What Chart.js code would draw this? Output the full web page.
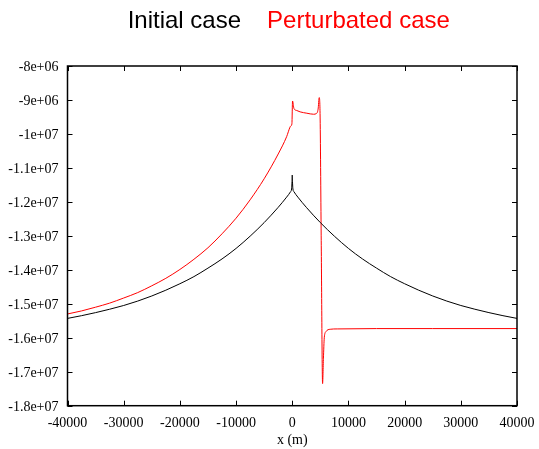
<!DOCTYPE html>
<html>
<head>
<meta charset="utf-8">
<script src="https://cdn.jsdelivr.net/npm/chart.js@4.4.1/dist/chart.umd.min.js"></script>
<style>
  html, body { margin: 0; padding: 0; background: #fff; }
  canvas { display: block; }
</style>
</head>
<body>
<canvas id="chart" width="539" height="449"></canvas>
<script>
// valeurs (x en m)
const initialX = [-40000, -37500, -35000, -32500, -30000, -27500, -25000, -22500, -20000, -17500,
  -15000, -12500, -10000, -7500, -5000, -2500, -1000, -300, -120, -40, 0, 40, 120, 300, 1000,
  2500, 5000, 7500, 10000, 12500, 15000, 17500, 20000, 22500, 25000, 27500, 30000, 32500, 35000,
  37500, 40000];
const initialY = [-15.43e6, -15.35e6, -15.26e6, -15.16e6, -15.05e6, -14.92e6, -14.77e6, -14.60e6,
  -14.41e6, -14.20e6, -13.95e6, -13.68e6, -13.37e6, -13.01e6, -12.61e6, -12.16e6, -11.86e6,
  -11.70e6, -11.62e6, -11.40e6, -11.21e6, -11.40e6, -11.62e6, -11.70e6, -11.86e6, -12.16e6,
  -12.61e6, -13.01e6, -13.37e6, -13.68e6, -13.95e6, -14.20e6, -14.41e6, -14.60e6, -14.77e6,
  -14.92e6, -15.05e6, -15.16e6, -15.26e6, -15.35e6, -15.43e6];

const perturbX = [-40000, -37500, -35000, -32500, -30000, -27500, -25000, -22500, -20000, -17500,
  -15000, -12500, -10000, -7500, -5000, -2500, -1000, -400, -230, -60, 50, 300, 800, 1400, 2600,
  3800, 4300, 4600, 4800, 4950, 5150, 5400, 5550, 5700, 6000, 6750, 8000, 15000, 25000, 40000];
const perturbY = [-15.30e6, -15.21e6, -15.10e6, -14.98e6, -14.83e6, -14.67e6, -14.47e6, -14.25e6,
  -13.99e6, -13.69e6, -13.35e6, -12.94e6, -12.48e6, -11.94e6, -11.32e6, -10.59e6, -10.08e6,
  -9.80e6, -9.76e6, -9.70e6, -9.03e6, -9.25e6, -9.31e6, -9.35e6, -9.39e6, -9.42e6, -9.40e6,
  -9.27e6, -8.93e6, -9.40e6, -13.0e6, -17.35e6, -16.6e6, -16.0e6, -15.82e6, -15.75e6, -15.74e6,
  -15.73e6, -15.73e6, -15.73e6];

const xTicks = [-40000, -30000, -20000, -10000, 0, 10000, 20000, 30000, 40000];
const xTickLabels = ['-40000', '-30000', '-20000', '-10000', '0', '10000', '20000', '30000', '40000'];
const yTicks = [-18e6, -17e6, -16e6, -15e6, -14e6, -13e6, -12e6, -11e6, -10e6, -9e6, -8e6];
const yTickLabels = ['-1.8e+07', '-1.7e+07', '-1.6e+07', '-1.5e+07', '-1.4e+07', '-1.3e+07',
  '-1.2e+07', '-1.1e+07', '-1e+07', '-9e+06', '-8e+06'];

const seriesNames = ['Initial case', 'Perturbated case'];
const seriesColors = ['#000000', '#ff0000'];

const serif = "'Liberation Serif', 'Times New Roman', serif";

// titre en deux couleurs au-dessus du cadre
const headerPlugin = {
  id: 'header',
  afterDraw(chart) {
    const { ctx, chartArea } = chart;
    ctx.save();
    ctx.font = "24px 'Liberation Sans', Arial, sans-serif";
    ctx.textBaseline = 'alphabetic';
    ctx.textAlign = 'left';
    const gap = 26;
    const w0 = ctx.measureText(seriesNames[0]).width;
    const w1 = ctx.measureText(seriesNames[1]).width;
    const cx = (chartArea.left + chartArea.right) / 2 - 3.5;
    let x = cx - (w0 + gap + w1) / 2;
    ctx.fillStyle = seriesColors[0];
    ctx.fillText(seriesNames[0], x, 28);
    ctx.fillStyle = seriesColors[1];
    ctx.fillText(seriesNames[1], x + w0 + gap, 28);
    ctx.restore();
  }
};

// cadre et graduations vers l'interieur sur les 4 cotes
const framePlugin = {
  id: 'frame',
  afterDatasetsDraw(chart) {
    const { ctx, chartArea: a, scales } = chart;
    const len = 5;
    ctx.save();
    ctx.strokeStyle = '#000';
    ctx.lineWidth = 1;
    ctx.beginPath();
    xTicks.forEach(v => {
      const px = Math.round(scales.x.getPixelForValue(v)) + 0.5;
      ctx.moveTo(px, a.bottom); ctx.lineTo(px, a.bottom - len);
      ctx.moveTo(px, a.top); ctx.lineTo(px, a.top + len);
    });
    yTicks.forEach(v => {
      const py = Math.round(scales.y.getPixelForValue(v)) + 0.5;
      ctx.moveTo(a.left, py); ctx.lineTo(a.left + len, py);
      ctx.moveTo(a.right, py); ctx.lineTo(a.right - len, py);
    });
    ctx.stroke();
    ctx.lineWidth = 1.5;
    ctx.strokeRect(a.left, a.top, a.right - a.left, a.bottom - a.top);
    ctx.restore();
  }
};

const toPoints = (xs, ys) => xs.map((x, i) => ({ x: x, y: ys[i] }));

new Chart(document.getElementById('chart'), {
  type: 'line',
  data: {
    datasets: [{
      label: seriesNames[0],
      data: toPoints(initialX, initialY),
      borderColor: seriesColors[0],
      borderWidth: 1,
      pointRadius: 0,
      cubicInterpolationMode: 'monotone',
      fill: false
    }, {
      label: seriesNames[1],
      data: toPoints(perturbX, perturbY),
      borderColor: seriesColors[1],
      borderWidth: 1,
      pointRadius: 0,
      cubicInterpolationMode: 'monotone',
      fill: false
    }]
  },
  options: {
    responsive: false,
    animation: false,
    devicePixelRatio: 1,
    layout: { padding: { left: 0, right: 22, top: 66, bottom: 0 } },
    plugins: {
      legend: { display: false },
      title: { display: false },
      tooltip: { enabled: false }
    },
    scales: {
      x: {
        type: 'linear',
        min: -40000,
        max: 40000,
        afterBuildTicks: s => { s.ticks = xTicks.map(v => ({ value: v })); },
        afterFit: s => { s.height = 43.3; s.paddingLeft = 0; s.paddingRight = 0; },
        grid: { display: false, drawTicks: false },
        border: { display: false },
        ticks: {
          padding: 9,
          color: '#000',
          font: { family: serif, size: 14 },
          maxRotation: 0,
          callback: v => xTickLabels[xTicks.indexOf(v)]
        },
        title: {
          display: true,
          text: 'x (m)',
          color: '#000',
          font: { family: serif, size: 14 },
          padding: { top: 0, bottom: 0 }
        }
      },
      y: {
        type: 'linear',
        min: -18e6,
        max: -8e6,
        afterBuildTicks: s => { s.ticks = yTicks.map(v => ({ value: v })); },
        afterFit: s => { s.width = 67.5; },
        grid: { display: false, drawTicks: false },
        border: { display: false },
        ticks: {
          padding: 9,
          labelOffset: 1.5,
          color: '#000',
          font: { family: serif, size: 14 },
          callback: v => yTickLabels[yTicks.indexOf(v)]
        }
      }
    }
  },
  plugins: [headerPlugin, framePlugin]
});
</script>
</body>
</html>
